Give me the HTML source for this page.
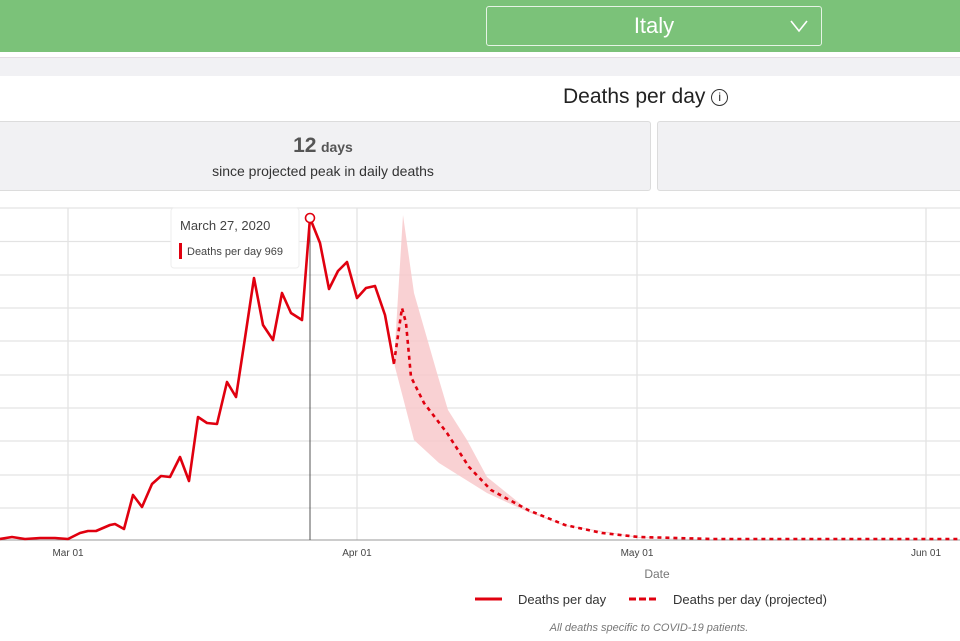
<!DOCTYPE html>
<html><head><style>
body{margin:0;width:960px;height:641px;overflow:hidden;background:#fff;font-family:"Liberation Sans",sans-serif;position:relative}
.hdr{position:absolute;left:0;top:0;width:960px;height:52px;background:#7bc279}
.dd{position:absolute;left:486px;top:6px;width:334px;height:38px;border:1px solid #e6f3e5;border-radius:3px;color:#fff;font-size:22px;text-align:center;line-height:38px}
.strip{position:absolute;left:0;top:57px;width:960px;height:18px;background:#f1f1f4;border-top:1px solid #e4dde4}
.title{position:absolute;left:563px;top:85px;font-size:21px;color:#222}
.card{position:absolute;top:121px;height:68px;background:#f1f1f3;border:1px solid #dcdcdc;border-radius:3px}
</style></head><body>
<div class="hdr"><div class="dd">Italy<svg style="position:absolute;left:303px;top:12px" width="18" height="14"><polyline points="1,2 9,12 17,2" fill="none" stroke="#fff" stroke-width="1.6"/></svg></div></div>
<div class="strip"></div>
<div class="title">Deaths per day <span style="display:inline-block;width:15px;height:15px;border:1.3px solid #333;border-radius:50%;font-size:12px;line-height:15px;text-align:center;vertical-align:2px">i</span></div>
<div class="card" style="left:-5px;width:654px"><div style="text-align:center;margin-top:12px;color:#555"><span style="font-size:21px;font-weight:bold">12</span> <span style="font-size:14px;font-weight:bold">days</span></div><div style="text-align:center;font-size:14px;color:#333;margin-top:5px">since projected peak in daily deaths</div></div>
<div class="card" style="left:657px;width:310px"></div>
<svg style="position:absolute;left:0;top:0" width="960" height="641">
<g stroke="#e3e3e3" stroke-width="1.3">
<line x1="0" x2="960" y1="208" y2="208"/><line x1="0" x2="960" y1="241.5" y2="241.5"/><line x1="0" x2="960" y1="275" y2="275"/><line x1="0" x2="960" y1="308" y2="308"/><line x1="0" x2="960" y1="341" y2="341"/><line x1="0" x2="960" y1="375" y2="375"/><line x1="0" x2="960" y1="408" y2="408"/><line x1="0" x2="960" y1="441" y2="441"/><line x1="0" x2="960" y1="475" y2="475"/><line x1="0" x2="960" y1="508" y2="508"/>
<line x1="68" x2="68" y1="208" y2="540"/><line x1="357" x2="357" y1="208" y2="540"/><line x1="637" x2="637" y1="208" y2="540"/><line x1="926" x2="926" y1="208" y2="540"/>
</g>
<line x1="0" x2="960" y1="540" y2="540" stroke="#999" stroke-width="1"/>
<line x1="310" x2="310" y1="218" y2="540" stroke="#555" stroke-width="1"/>
<polygon fill="#f8c9cb" opacity="0.85" points="394,362 403,215 414,293 437,373 448,410 467,440 487,477 528,510 565,525 639,537 700,539 700,539 639,538 565,526 528,512 487,493 439,463 414,440 395,367"/>
<polyline fill="none" stroke="#e0000f" stroke-width="2.6" stroke-linejoin="round" points="0,539 12,537 25,539 40,538 55,538 68,539 80,533 88,531 96,531 110,525 115,524 124,529 133,495 142,507 152,484 161,476 170,477 180,457 189,481 198,417 207,423 217,424 227,382 236,397 245,338 254,278 263,325 273,340 282,293 291,313 302,320 310,218 320,243 329,289 338,271 347,262 357,298 366,288 375,286 385,315 394,364"/>
<polyline fill="none" stroke="#e0000f" stroke-width="2.6" stroke-dasharray="4,4" points="394,363 402,308 406,323 411,377 424,403 447,433 469,467 491,490 528,510 565,525 602,533 639,537 713,539 960,539"/>
<circle cx="310" cy="218" r="4.5" fill="#fff" stroke="#e0000f" stroke-width="1.6"/>
<rect x="171" y="208" width="128" height="60" rx="3" fill="#fff" stroke="#eee"/>
<text x="180" y="230" font-size="13" fill="#444">March 27, 2020</text>
<rect x="179" y="243" width="3" height="16" fill="#e0000f"/>
<text x="187" y="255" font-size="11" fill="#444">Deaths per day  <tspan font-size="11">969</tspan></text>
<g font-size="10" fill="#444" text-anchor="middle"><text x="68" y="556">Mar 01</text><text x="357" y="556">Apr 01</text><text x="637" y="556">May 01</text><text x="926" y="556">Jun 01</text></g>
<text x="657" y="578" font-size="12" fill="#777" text-anchor="middle">Date</text>
<line x1="475" x2="502" y1="599" y2="599" stroke="#e0000f" stroke-width="3"/>
<text x="518" y="604" font-size="13" fill="#333">Deaths per day</text>
<line x1="629" x2="657" y1="599" y2="599" stroke="#e0000f" stroke-width="3" stroke-dasharray="7,3"/>
<text x="673" y="604" font-size="13" fill="#333">Deaths per day (projected)</text>
<text x="649" y="631" font-size="11" fill="#777" font-style="italic" text-anchor="middle">All deaths specific to COVID-19 patients.</text>
</svg>
</body></html>
